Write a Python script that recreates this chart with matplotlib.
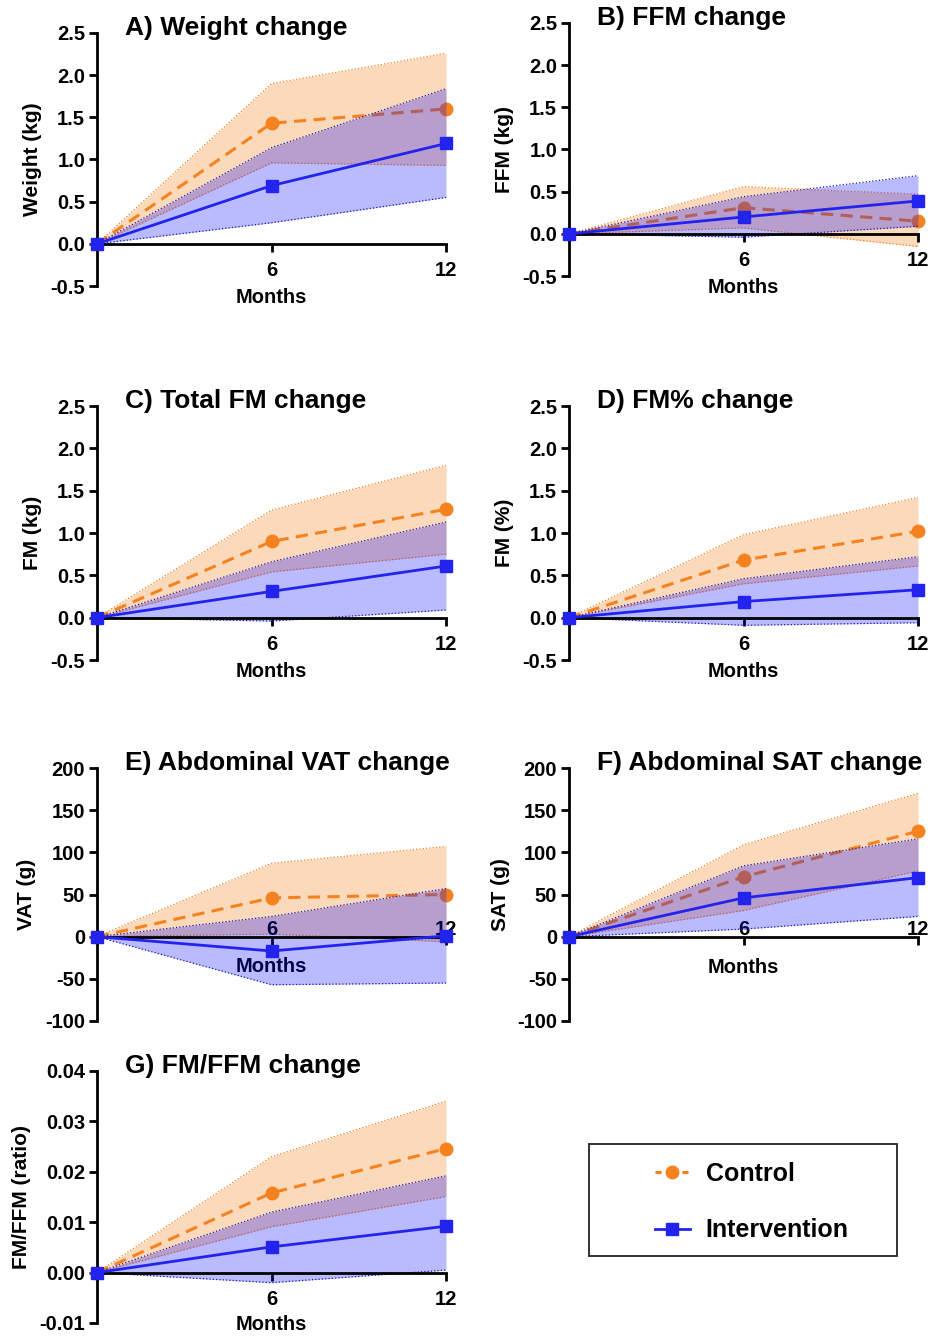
import matplotlib.pyplot as plt
import numpy as np
from matplotlib.lines import Line2D
from matplotlib.patches import Rectangle

plt.rcParams['font.family'] = ['Liberation Sans', 'DejaVu Sans']
plt.rcParams['font.weight'] = 'bold'
plt.rcParams['axes.unicode_minus'] = False

months = [0, 6, 12]

# A) weight (kg)
weight_ctrl = [0, 1.43, 1.60]
weight_ctrl_lo = [0, 0.96, 0.93]
weight_ctrl_hi = [0, 1.90, 2.26]
weight_int = [0, 0.69, 1.19]
weight_int_lo = [0, 0.25, 0.55]
weight_int_hi = [0, 1.14, 1.84]

# B) FFM (kg)
ffm_ctrl = [0, 0.31, 0.15]
ffm_ctrl_lo = [0, 0.07, -0.15]
ffm_ctrl_hi = [0, 0.56, 0.47]
ffm_int = [0, 0.20, 0.39]
ffm_int_lo = [0, -0.04, 0.09]
ffm_int_hi = [0, 0.44, 0.69]

# C) total FM (kg)
fm_ctrl = [0, 0.90, 1.28]
fm_ctrl_lo = [0, 0.54, 0.75]
fm_ctrl_hi = [0, 1.27, 1.80]
fm_int = [0, 0.31, 0.61]
fm_int_lo = [0, -0.04, 0.09]
fm_int_hi = [0, 0.66, 1.13]

# D) FM%
fmpct_ctrl = [0, 0.68, 1.02]
fmpct_ctrl_lo = [0, 0.40, 0.61]
fmpct_ctrl_hi = [0, 0.98, 1.42]
fmpct_int = [0, 0.19, 0.33]
fmpct_int_lo = [0, -0.09, -0.06]
fmpct_int_hi = [0, 0.46, 0.72]

# E) VAT (g)
vat_ctrl = [0, 46, 50]
vat_ctrl_lo = [0, 3, -6]
vat_ctrl_hi = [0, 87, 107]
vat_int = [0, -17, 1]
vat_int_lo = [0, -57, -55]
vat_int_hi = [0, 24, 57]

# F) SAT (g)
sat_ctrl = [0, 71, 125]
sat_ctrl_lo = [0, 31, 78]
sat_ctrl_hi = [0, 109, 170]
sat_int = [0, 46, 70]
sat_int_lo = [0, 9, 24]
sat_int_hi = [0, 84, 116]

# G) FM/FFM ratio
ratio_ctrl = [0, 0.0158, 0.0246]
ratio_ctrl_lo = [0, 0.0091, 0.0151]
ratio_ctrl_hi = [0, 0.0230, 0.0340]
ratio_int = [0, 0.0051, 0.0092]
ratio_int_lo = [0, -0.0020, 0.0005]
ratio_int_hi = [0, 0.0120, 0.0192]

kg_ticks = [-0.5, 0.0, 0.5, 1.0, 1.5, 2.0, 2.5]
kg_labels = ['-0.5', '0.0', '0.5', '1.0', '1.5', '2.0', '2.5']
g_ticks = [-100, -50, 0, 50, 100, 150, 200]
g_labels = ['-100', '-50', '0', '50', '100', '150', '200']
ratio_ticks = [-0.01, 0.0, 0.01, 0.02, 0.03, 0.04]
ratio_labels = ['-0.01', '0.00', '0.01', '0.02', '0.03', '0.04']

ORANGE = '#F5821F'
BLUE = '#2323EE'

W, H = 932, 1336
fig = plt.figure(figsize=(W / 100, H / 100), dpi=100)

panels = [
    # title, ylabel, ctrl, ctrl_lo, ctrl_hi, int, int_lo, int_hi, ticks, labels, (left, top, bottom), tick pad, months offset, ylabel offset
    ('A) Weight change', 'Weight (kg)', weight_ctrl, weight_ctrl_lo, weight_ctrl_hi,
     weight_int, weight_int_lo, weight_int_hi, kg_ticks, kg_labels, (97, 33, 286), 6.5, 54, 64),
    ('B) FFM change', 'FFM (kg)', ffm_ctrl, ffm_ctrl_lo, ffm_ctrl_hi,
     ffm_int, ffm_int_lo, ffm_int_hi, kg_ticks, kg_labels, (569, 23, 276), 6.5, 54, 64),
    ('C) Total FM change', 'FM (kg)', fm_ctrl, fm_ctrl_lo, fm_ctrl_hi,
     fm_int, fm_int_lo, fm_int_hi, kg_ticks, kg_labels, (97, 406, 660), 6.5, 54, 64),
    ('D) FM% change', 'FM (%)', fmpct_ctrl, fmpct_ctrl_lo, fmpct_ctrl_hi,
     fmpct_int, fmpct_int_lo, fmpct_int_hi, kg_ticks, kg_labels, (569, 406, 660), 6.5, 54, 64),
    ('E) Abdominal VAT change', 'VAT (g)', vat_ctrl, vat_ctrl_lo, vat_ctrl_hi,
     vat_int, vat_int_lo, vat_int_hi, g_ticks, g_labels, (97, 768, 1021), -18.0, 30, 70),
    ('F) Abdominal SAT change', 'SAT (g)', sat_ctrl, sat_ctrl_lo, sat_ctrl_hi,
     sat_int, sat_int_lo, sat_int_hi, g_ticks, g_labels, (569, 768, 1021), -18.0, 31, 69),
    ('G) FM/FFM change', 'FM/FFM (ratio)', ratio_ctrl, ratio_ctrl_lo, ratio_ctrl_hi,
     ratio_int, ratio_int_lo, ratio_int_hi, ratio_ticks, ratio_labels, (97, 1071, 1323), 6.5, 52, 75),
]

AX_W = 349

for (title, ylabel, c, c_lo, c_hi, iv, i_lo, i_hi, yticks, ylabels,
     (left, top, bottom), xpad, months_off, ylab_off) in panels:
    ax = fig.add_axes([left / W, 1 - bottom / H, AX_W / W, (bottom - top) / H])
    h_px = bottom - top
    ymin, ymax = yticks[0], yticks[-1]

    # control group: band, dotted band edges, dashed mean line
    ax.fill_between(months, c_lo, c_hi, color=ORANGE, alpha=0.3, lw=0, zorder=1)
    ax.plot(months, c_lo, ':', color=ORANGE, lw=0.9, zorder=1.5)
    ax.plot(months, c_hi, ':', color=ORANGE, lw=0.9, zorder=1.5)
    ax.plot(months, c, color=ORANGE, lw=2.2, ls=(0, (4.0, 2.4)), marker='o',
            markersize=9, zorder=2, clip_on=False)

    # intervention group drawn on top
    ax.fill_between(months, i_lo, i_hi, color='#0000FF', alpha=0.27, lw=0, zorder=3)
    ax.plot(months, i_lo, ':', color='#1A1AB0', lw=0.9, zorder=3.5)
    ax.plot(months, i_hi, ':', color='#1A1AB0', lw=0.9, zorder=3.5)
    ax.plot(months, iv, color=BLUE, lw=2.0, marker='s', markersize=8.5,
            zorder=4, clip_on=False)

    ax.set_xlim(0, 12)
    ax.set_ylim(ymin, ymax)
    for s in ['top', 'right']:
        ax.spines[s].set_visible(False)
    ax.spines['left'].set_linewidth(2.0)
    ax.spines['bottom'].set_linewidth(2.0)
    ax.spines['bottom'].set_position(('data', 0))
    ax.spines['left'].set_zorder(3.8)
    ax.spines['bottom'].set_zorder(3.8)

    ax.set_yticks(yticks)
    ax.set_yticklabels(ylabels)
    ax.set_xticks([6, 12])
    ax.set_xticklabels(['6', '12'])
    ax.tick_params(axis='y', length=6, width=2.0, pad=2.5, labelsize=14.5)
    ax.tick_params(axis='x', length=6, width=2.0, pad=xpad, labelsize=14.5)
    ax.patch.set_alpha(0)

    ax.set_ylabel(ylabel, fontsize=15, fontweight='bold')
    ax.yaxis.set_label_coords(-ylab_off / AX_W, 0.5)
    ax.yaxis.label.set_va('center')

    zero_px = (0 - ymin) / (ymax - ymin) * h_px
    ax.set_xlabel('Months', fontsize=14.5, fontweight='bold')
    ax.xaxis.set_label_coords(0.5, (zero_px - months_off) / h_px)
    ax.xaxis.label.set_va('center')

    fig.text((left + 28) / W, 1 - (top - 5) / H, title, fontsize=19,
             fontweight='bold', ha='left', va='center')

# legend in its own box
fig.add_artist(Rectangle((589 / W, 1 - 1256 / H), 308 / W, 112 / H,
                         transform=fig.transFigure, fill=False, lw=1.3,
                         edgecolor='#222222'))
handles = [
    Line2D([0], [0], color=ORANGE, lw=2.2, ls=(0, (2.0, 2.4)), marker='o', markersize=9),
    Line2D([0], [0], color=BLUE, lw=2.0, marker='s', markersize=8.5),
]
fig.legend(handles, ['Control', 'Intervention'], loc='center left',
           bbox_to_anchor=(632 / W, 1 - 1202 / H), frameon=False,
           prop={'size': 18, 'weight': 'bold'}, handlelength=1.4,
           handletextpad=0.65, labelspacing=1.3)

fig.savefig('out.png', dpi=100)
